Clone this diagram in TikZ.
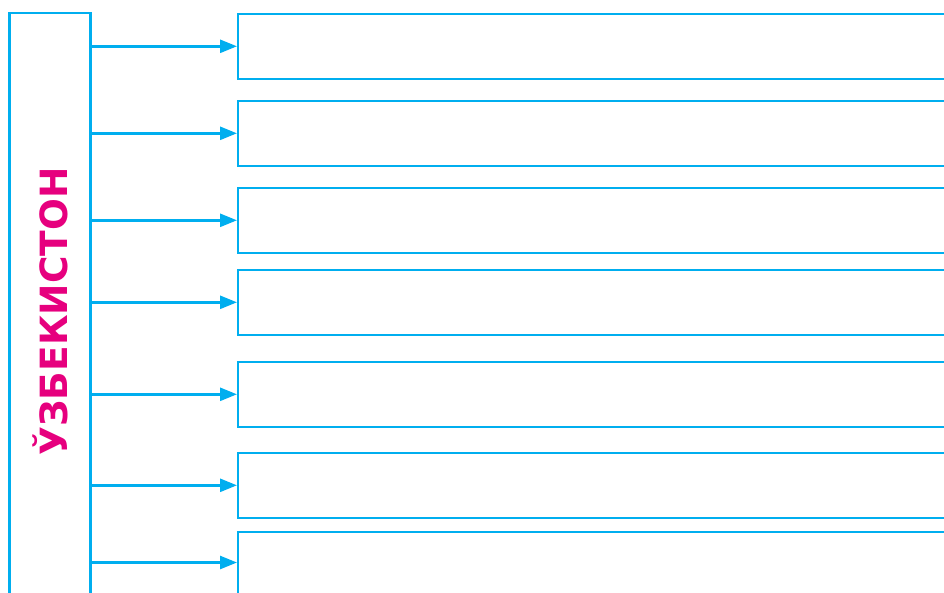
\documentclass[tikz,border=0pt]{standalone}
\usepackage{fontspec}
\setmainfont{DejaVu Sans}
\usetikzlibrary{arrows.meta}
\definecolor{cblue}{HTML}{00AEEF}
\definecolor{cmag}{HTML}{E6007E}
\begin{document}
\begin{tikzpicture}[x=1pt,y=-1pt,
  boxstyle/.style={draw=cblue, line width=2.6pt, inner sep=0pt, minimum width=724pt, minimum height=65pt},
  leftstyle/.style={draw=cblue, line width=2.6pt, inner sep=0pt, minimum width=81pt, minimum height=600pt},
  conn/.style={draw=cblue, line width=2.6pt, -{Triangle[length=17pt,width=13pt]}, shorten >=-0.5pt}]
\useasboundingbox (0,0) rectangle (944,592);
\clip (0,0) rectangle (944,592);
\node[leftstyle] (L) at (50,313) {};
\node[text=cmag, font=\bfseries\fontsize{37.5}{37.5}\selectfont, rotate=90] (T) at (50,311.5) {ЎЗБЕКИСТОН};
\node[boxstyle, anchor=north west] (B1) at (236.5,12.5) {};
\node[boxstyle, anchor=north west] (B2) at (236.5,99.5) {};
\node[boxstyle, anchor=north west] (B3) at (236.5,186.5) {};
\node[boxstyle, anchor=north west] (B4) at (236.5,268.5) {};
\node[boxstyle, anchor=north west] (B5) at (236.5,360.5) {};
\node[boxstyle, anchor=north west] (B6) at (236.5,451.5) {};
\node[boxstyle, anchor=north west] (B7) at (236.5,530.5) {};
\coordinate (E7) at (236.5,562.5);
\foreach \b in {B1,B2,B3,B4,B5,B6}{
  \draw[conn] (L.east |- \b.west) -- (\b.west);
}
\draw[conn] (L.east |- E7) -- (E7);
\end{tikzpicture}
\end{document}
